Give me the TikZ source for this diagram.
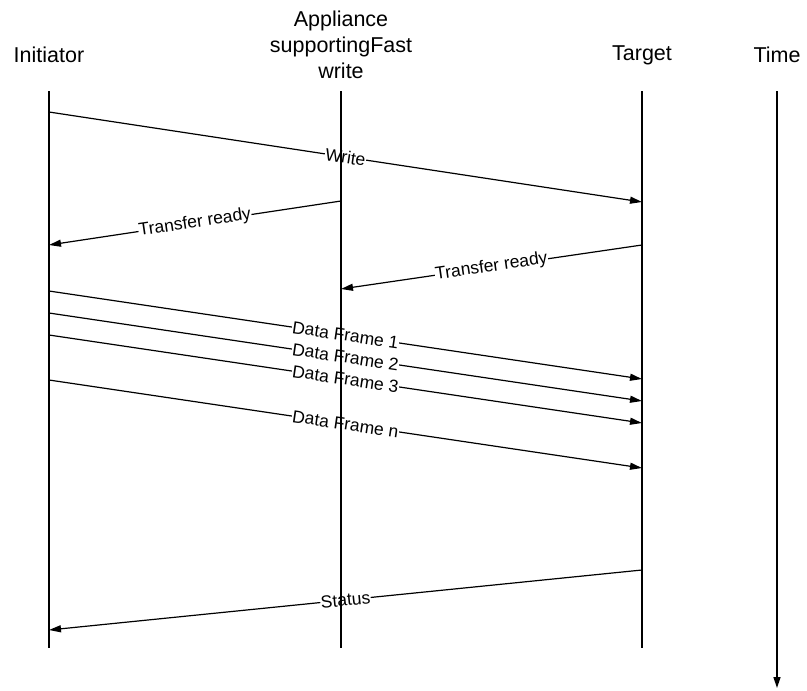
\documentclass[tikz,border=0pt]{standalone}
\usepackage{fontspec}
\setmainfont{Liberation Sans}
\usetikzlibrary{arrows.meta}
\begin{document}
\begin{tikzpicture}[x=1pt,y=-1pt,
  hdr/.style={font=\fontsize{21.5}{26}\selectfont, align=center, inner sep=0pt},
  life/.style={line width=1.2pt},
  msg/.style={line width=1.2pt, -{Triangle[length=12pt,width=7pt]}},
  lbl/.style={midway, sloped, fill=white, inner sep=0.5pt, font=\fontsize{17.5}{20}\selectfont}]
\useasboundingbox (0,0) rectangle (807,691);
% headers
\node[hdr] (hI) at (49,55) {Initiator};
\node[hdr] (hA) at (341,45) {Appliance\\supportingFast\\write};
\node[hdr] (hT) at (642,55) {Target};
\node[hdr] (hTm) at (777,55) {Time};
% lifeline ends
\coordinate (I0) at (49,91);  \coordinate (I1) at (49,648);
\coordinate (A0) at (341,91); \coordinate (A1) at (341,648);
\coordinate (T0) at (642,91); \coordinate (T1) at (642,648);
\coordinate (Tm0) at (777,91); \coordinate (Tm1) at (777,688);
% message end points
\coordinate (wS) at (49,112);  \coordinate (wE) at (642,202);
\coordinate (r1S) at (341,201); \coordinate (r1E) at (49,245);
\coordinate (r2S) at (642,245); \coordinate (r2E) at (341,289);
\coordinate (d1S) at (49,291); \coordinate (d1E) at (642,379);
\coordinate (d2S) at (49,313); \coordinate (d2E) at (642,401);
\coordinate (d3S) at (49,335); \coordinate (d3E) at (642,423);
\coordinate (dnS) at (49,380); \coordinate (dnE) at (642,468);
\coordinate (sS) at (642,570); \coordinate (sE) at (49,630);
% messages
\draw[msg] (wS) -- (wE) node[lbl] {Write};
\draw[msg] (r1S) -- (r1E) node[lbl] {Transfer ready};
\draw[msg] (r2S) -- (r2E) node[lbl] {Transfer ready};
\draw[msg] (d1S) -- (d1E) node[lbl] {Data Frame 1};
\draw[msg] (d2S) -- (d2E) node[lbl] {Data Frame 2};
\draw[msg] (d3S) -- (d3E) node[lbl] {Data Frame 3};
\draw[msg] (dnS) -- (dnE) node[lbl] {Data Frame n};
\draw[msg] (sS) -- (sE) node[lbl] {Status};
% lifelines
\draw[life] (I0) -- (I1);
\draw[life] (A0) -- (A1);
\draw[life] (T0) -- (T1);
\draw[line width=1.5pt, -{Triangle[length=11pt,width=7pt]}] (Tm0) -- (Tm1);
\end{tikzpicture}
\end{document}
